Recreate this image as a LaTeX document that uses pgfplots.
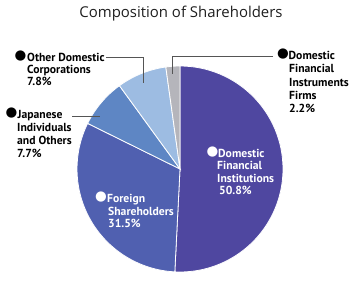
\documentclass[border=0pt]{standalone}
\usepackage{fontspec}
\setmainfont{PT Sans}
\newfontfamily\titlefont{Open Sans}
\newfontfamily\sym{DejaVu Sans}
\usepackage{pgfplots}
\pgfplotsset{compat=1.18}
\definecolor{cA}{RGB}{79,71,160}
\definecolor{cB}{RGB}{80,96,176}
\definecolor{cC}{RGB}{94,134,196}
\definecolor{cD}{RGB}{157,188,226}
\definecolor{cE}{RGB}{181,181,187}
\definecolor{lead}{RGB}{85,85,85}
\definecolor{titlec}{RGB}{30,30,30}
\begin{document}
\begin{tikzpicture}
% shares (percent), clockwise from 12 o'clock
\def\vA{50.8}\def\vB{31.5}\def\vC{7.7}\def\vD{7.8}\def\vE{2.2}
\pgfmathsetmacro\aA{90}
\pgfmathsetmacro\aB{\aA-3.6*\vA}
\pgfmathsetmacro\aC{\aB-3.6*\vB}
\pgfmathsetmacro\aD{\aC-3.6*\vC}
\pgfmathsetmacro\aE{\aD-3.6*\vD}
\pgfmathsetmacro\aF{\aE-3.6*\vE}
\def\R{103}
\begin{axis}[x=1bp,y=1bp,xmin=0,xmax=360,ymin=0,ymax=296,
  axis lines=none,ticks=none,clip=false]
\path (axis cs:0,0) rectangle (axis cs:360,296);
\fill[cA,draw=white,line width=0.8bp] (axis cs:180,127) -- (axis cs:{180+\R*cos(\aA)},{127+\R*sin(\aA)}) arc[start angle=\aA,end angle=\aB,radius=\R bp] -- cycle;
\fill[cB,draw=white,line width=0.8bp] (axis cs:180,127) -- (axis cs:{180+\R*cos(\aB)},{127+\R*sin(\aB)}) arc[start angle=\aB,end angle=\aC,radius=\R bp] -- cycle;
\fill[cC,draw=white,line width=0.8bp] (axis cs:180,127) -- (axis cs:{180+\R*cos(\aC)},{127+\R*sin(\aC)}) arc[start angle=\aC,end angle=\aD,radius=\R bp] -- cycle;
\fill[cD,draw=white,line width=0.8bp] (axis cs:180,127) -- (axis cs:{180+\R*cos(\aD)},{127+\R*sin(\aD)}) arc[start angle=\aD,end angle=\aE,radius=\R bp] -- cycle;
\fill[cE,draw=white,line width=0.8bp] (axis cs:180,127) -- (axis cs:{180+\R*cos(\aE)},{127+\R*sin(\aE)}) arc[start angle=\aE,end angle=\aF,radius=\R bp] -- cycle;
% leader lines
\draw[lead,line width=0.8bp] (axis cs:106,239) -- (axis cs:143,239) -- (axis cs:143,213);
\draw[lead,line width=0.8bp] (axis cs:72,180) -- (axis cs:100,180);
\draw[lead,line width=0.8bp] (axis cs:273,240) -- (axis cs:172,240) -- (axis cs:172,222);
% title
\node[anchor=base,inner sep=0,text=titlec,font=\titlefont\fontsize{15}{18}\selectfont] at (axis cs:181,279) {Composition of Shareholders};
% labels
\tikzset{lab/.style={anchor=base west,inner sep=0,font=\bfseries\fontsize{11.7}{13}\selectfont,text=black},
  bul/.style={anchor=center,inner sep=0,font=\sym\fontsize{13.5}{13.5}\selectfont}}
% Other Domestic Corporations
\node[bul] at (axis cs:20.5,239.5) {●};
\node[lab] at (axis cs:27,235) {Other Domestic};
\node[lab] at (axis cs:27,223) {Corporations};
\node[lab] at (axis cs:27,211) {\vD\%};
% Japanese Individuals
\node[bul] at (axis cs:11.5,182.5) {●};
\node[lab] at (axis cs:17.5,178) {Japanese};
\node[lab] at (axis cs:17,165) {Individuals};
\node[lab] at (axis cs:17,152) {and Others};
\node[lab] at (axis cs:17,139) {\vC\%};
% Domestic Financial Instruments Firms
\node[bul] at (axis cs:283,241.5) {●};
\node[lab] at (axis cs:288.5,237) {Domestic};
\node[lab] at (axis cs:289,223.5) {Financial};
\node[lab] at (axis cs:289,210) {Instruments};
\node[lab] at (axis cs:289,197) {Firms};
\node[lab] at (axis cs:289,184) {\vE\%};
% Domestic Financial Institutions
\node[bul,text=white] at (axis cs:212.5,143.5) {●};
\node[lab,text=white] at (axis cs:218,139) {Domestic};
\node[lab,text=white] at (axis cs:217,126.5) {Financial};
\node[lab,text=white] at (axis cs:217,114) {Institutions};
\node[lab,text=white] at (axis cs:219,101.5) {\vA\%};
% Foreign Shareholders
\node[bul,text=white] at (axis cs:101,98.5) {●};
\node[lab,text=white] at (axis cs:107,94) {Foreign};
\node[lab,text=white] at (axis cs:108,81) {Shareholders};
\node[lab,text=white] at (axis cs:108,69) {\vB\%};
\end{axis}
\end{tikzpicture}
\end{document}
